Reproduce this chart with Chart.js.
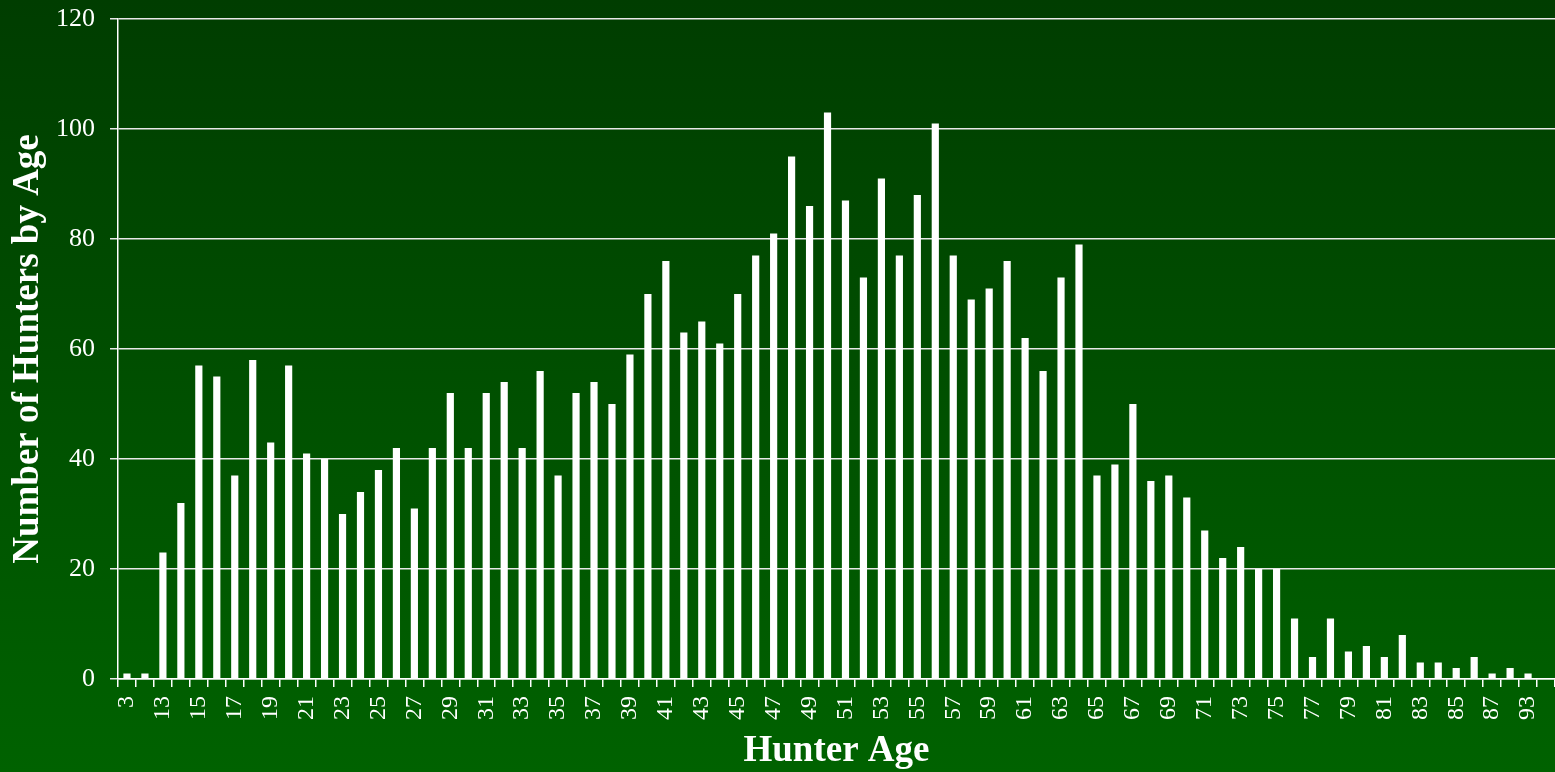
<!DOCTYPE html>
<html>
<head>
<meta charset="utf-8">
<script src="https://cdn.jsdelivr.net/npm/chart.js@4/dist/chart.umd.min.js"></script>
<style>
  html, body { margin: 0; padding: 0; }
  body {
    width: 1555px; height: 772px; overflow: hidden;
    background: linear-gradient(to bottom, #003d00 0%, #006200 100%);
  }
  #wrap { position: relative; width: 1555px; height: 772px; }
</style>
</head>
<body>
<div id="wrap"><canvas id="ageChart"></canvas></div>
<script>
// hunter ages (x categories) - second and last ones carry no printed label
const ages = [
  "3", "12", "13", "14", "15", "16", "17", "18", "19", "20",
  "21", "22", "23", "24", "25", "26", "27", "28", "29", "30",
  "31", "32", "33", "34", "35", "36", "37", "38", "39", "40",
  "41", "42", "43", "44", "45", "46", "47", "48", "49", "50",
  "51", "52", "53", "54", "55", "56", "57", "58", "59", "60",
  "61", "62", "63", "64", "65", "66", "67", "68", "69", "70",
  "71", "72", "73", "74", "75", "76", "77", "78", "79", "80",
  "81", "82", "83", "84", "85", "86", "87", "88", "93", "95"
];

// number of hunters for each age
const hunters = [
  1, 1, 23, 32, 57, 55, 37, 58, 43, 57,
  41, 40, 30, 34, 38, 42, 31, 42, 52, 42,
  52, 54, 42, 56, 37, 52, 54, 50, 59, 70,
  76, 63, 65, 61, 70, 77, 81, 95, 86, 103,
  87, 73, 91, 77, 88, 101, 77, 69, 71, 76,
  62, 56, 73, 79, 37, 39, 50, 36, 37, 33,
  27, 22, 24, 20, 20, 11, 4, 11, 5, 6,
  4, 8, 3, 3, 2, 4, 1, 2, 1, null
];

const yTicks = [0, 20, 40, 60, 80, 100, 120];

const serif = "'Liberation Serif', 'Times New Roman', serif";
const ink = "#ffffff";

(function () {
  const ctx = document.getElementById("ageChart");

  new Chart(ctx, {
    type: "bar",
    data: {
      labels: ages,
      datasets: [{
        label: "Hunters",
        data: hunters,
        backgroundColor: "#ffffff",
        borderWidth: 0,
        barPercentage: 0.4,
        categoryPercentage: 1.0
      }]
    },
    options: {
      responsive: true,
      maintainAspectRatio: false,
      animation: false,
      layout: {
        padding: { top: 19, right: 0, bottom: 0, left: 0 }
      },
      plugins: {
        legend: { display: false },
        tooltip: { enabled: false }
      },
      scales: {
        x: {
          type: "category",
          offset: true,
          afterFit: scale => {
            scale.height = 93;
            scale.paddingLeft = 0;
            scale.paddingRight = 0;
          },
          border: { display: true, color: ink, width: 1.5 },
          grid: {
            offset: true,
            drawOnChartArea: false,
            drawTicks: true,
            tickLength: 8,
            color: ink,
            lineWidth: 1.5
          },
          ticks: {
            autoSkip: false,
            minRotation: 90,
            maxRotation: 90,
            padding: 9,
            color: ink,
            font: { family: serif, size: 24 },
            callback: function (value, index) {
              return index % 2 === 0 ? this.getLabelForValue(value) : "";
            }
          },
          title: {
            display: true,
            text: "Hunter Age",
            color: ink,
            font: { family: serif, size: 37, weight: "bold", lineHeight: 1 },
            padding: { top: 0, bottom: 2 }
          }
        },
        y: {
          min: 0,
          max: 120,
          afterFit: scale => {
            scale.width = 118;
            scale.paddingTop = 0;
            scale.paddingBottom = 0;
          },
          afterBuildTicks: scale => {
            scale.ticks = yTicks.map(v => ({ value: v }));
          },
          border: { display: true, color: ink, width: 1.5 },
          grid: {
            color: "#e8e8e8",
            lineWidth: 1.5,
            drawTicks: true,
            tickLength: 8
          },
          ticks: {
            padding: 15,
            color: ink,
            font: { family: serif, size: 26 }
          },
          title: {
            display: true,
            text: "Number of Hunters by Age",
            color: ink,
            font: { family: serif, size: 37, weight: "bold", lineHeight: 1 },
            padding: { top: 10, bottom: 0 }
          }
        }
      }
    }
  });
})();
</script>
</body>
</html>
